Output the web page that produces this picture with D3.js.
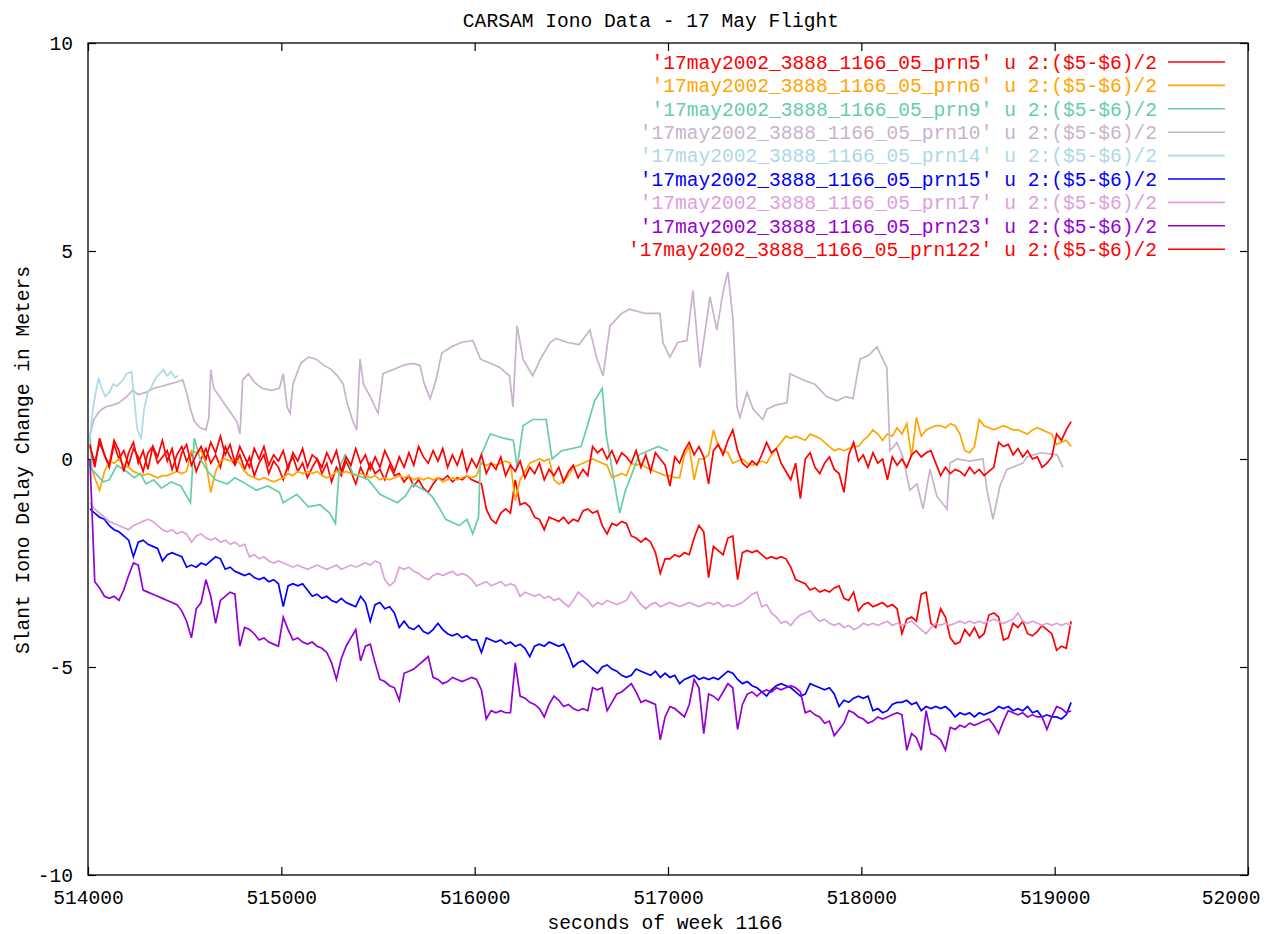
<!DOCTYPE html>
<html><head><meta charset="utf-8">
<script src="https://cdn.jsdelivr.net/npm/d3@7"></script>
<style>
body{margin:0;background:#fff;}
text{font-family:"Liberation Mono","DejaVu Sans Mono",monospace;}
</style></head><body>
<svg id="chart" width="1273" height="934"></svg>
<script>
// Densely sampled receivers share one regular time grid (seconds of week)
const denseStart = 514010, denseStep = 25;

// prn5: near zero, then drifting down after 516000 s
const prn5Values = [
 0.3,-0.1,0.4,0.1,-0.2,0.35,0.0,0.2,
 -0.15,0.25,0.05,-0.3,0.15,0.3,-0.1,0.05,
 0.2,-0.25,0.1,0.3,-0.05,0.15,-0.3,0.0,
 0.25,-0.1,0.1,-0.2,0.3,0.05,-0.15,0.1,
 -0.25,0.05,-0.4,-0.1,0.1,-0.35,-0.05,-0.2,
 -0.5,-0.15,0.05,-0.3,-0.1,-0.45,-0.2,0.0,
 -0.35,-0.1,-0.55,-0.2,-0.4,-0.05,-0.3,-0.6,
 -0.2,-0.45,-0.1,-0.35,-0.25,-0.5,-0.15,-0.4,
 -0.35,-0.55,-0.4,-0.65,-0.5,-0.7,-0.8,-0.6,
 -0.45,-0.5,-0.4,-0.55,-0.45,-0.5,-0.4,-0.5,
 -0.55,-0.6,-1.2,-1.45,-1.55,-1.3,-1.2,-1.3,
 -0.5,-1.1,-1.05,-1.15,-1.4,-1.45,-1.7,-1.4,
 -1.45,-1.5,-1.4,-1.55,-1.45,-1.5,-1.25,-1.2,
 -1.3,-1.25,-1.6,-1.8,-1.55,-1.6,-1.5,-1.55,
 -1.85,-1.9,-2.0,-1.9,-2.0,-2.25,-2.75,-2.4,
 -2.4,-2.3,-2.35,-2.25,-2.3,-1.9,-1.6,-1.75,
 -2.85,-2.1,-2.2,-2.3,-1.9,-1.85,-2.9,-2.25,
 -2.2,-2.25,-2.2,-2.3,-2.4,-2.35,-2.4,-2.35,
 -2.4,-2.6,-2.9,-2.95,-3.0,-3.15,-3.1,-3.2,
 -3.15,-3.2,-3.1,-3.05,-3.35,-3.4,-3.2,-3.65,
 -3.5,-3.45,-3.55,-3.5,-3.45,-3.55,-3.5,-3.6,
 -4.2,-3.85,-3.8,-3.9,-3.25,-3.2,-3.95,-4.05,
 -3.6,-3.8,-4.3,-4.45,-4.4,-4.1,-4.25,-4.05,
 -4.3,-4.2,-3.75,-3.7,-3.8,-4.35,-4.3,-3.95,
 -4.05,-3.9,-4.2,-4.25,-4.15,-4.0,-4.1,-4.2,
 -4.6,-4.5,-4.55,-3.9
];

const prn6Values = [
 -0.1,-0.45,-0.75,-0.3,-0.05,-0.1,0.0,-0.15,
 -0.2,-0.3,-0.35,-0.4,-0.35,-0.4,-0.45,-0.4,
 -0.4,-0.35,-0.3,-0.35,-0.3,0.2,0.15,0.2,
 -0.1,-0.8,-0.3,-0.05,0.0,-0.05,0.0,-0.1,
 -0.3,-0.4,-0.45,-0.5,-0.45,-0.5,-0.55,-0.5,
 -0.45,-0.35,-0.4,-0.3,-0.35,-0.3,-0.35,-0.3,
 -0.4,-0.45,-0.4,-0.3,-0.35,-0.3,-0.35,-0.4,
 -0.35,-0.4,-0.45,-0.4,-0.5,-0.45,-0.5,-0.45,
 -0.4,-0.45,-0.4,-0.5,-0.45,-0.5,-0.45,-0.5,
 -0.45,-0.55,-0.5,-0.45,-0.5,-0.45,-0.4,-0.45,
 -0.4,-0.1,-0.15,-0.1,-0.15,-0.1,-0.05,-0.1,
 -1.0,-0.5,-0.3,-0.1,-0.05,0.0,-0.05,0.0,
 -0.5,-0.6,-0.55,-0.4,-0.2,-0.15,-0.1,-0.05,
 0.0,-0.05,-0.1,-0.15,-0.45,-0.4,-0.35,-0.4,
 -0.1,-0.15,-0.1,-0.2,-0.25,-0.3,-0.35,-0.4,
 -0.4,-0.45,-0.45,0.1,0.3,-0.5,0.0,0.0,
 0.1,0.7,0.3,0.2,0.15,-0.1,-0.05,0.0,
 -0.1,-0.15,-0.1,-0.05,-0.1,0.1,0.25,0.4,
 0.55,0.5,0.55,0.5,0.45,0.6,0.55,0.5,
 0.4,0.3,0.2,0.25,0.2,0.25,0.3,0.3,
 0.45,0.55,0.7,0.6,0.45,0.6,0.55,0.75,
 0.6,0.85,0.05,1.0,0.55,0.7,0.75,0.8,
 0.8,0.75,0.85,0.8,0.6,0.2,0.15,0.3,
 0.95,0.8,0.75,0.7,0.75,0.8,0.75,0.7,
 0.7,0.65,0.6,0.7,0.75,0.7,0.65,0.6,
 0.35,0.4,0.45,0.3
];

const prn15Values = [
 -1.2,-1.3,-1.4,-1.45,-1.6,-1.7,-1.75,-1.85,
 -1.95,-2.35,-2.0,-1.95,-2.05,-2.1,-2.15,-2.45,
 -2.3,-2.25,-2.3,-2.35,-2.6,-2.55,-2.6,-2.5,
 -2.55,-2.45,-2.35,-2.4,-2.65,-2.6,-2.7,-2.75,
 -2.8,-2.75,-2.85,-2.9,-2.85,-2.95,-2.9,-3.0,
 -3.55,-3.05,-3.0,-3.05,-3.0,-3.15,-3.3,-3.25,
 -3.35,-3.3,-3.4,-3.45,-3.35,-3.45,-3.5,-3.55,
 -3.3,-3.45,-3.9,-3.5,-3.45,-3.6,-3.55,-3.7,
 -4.05,-3.9,-4.05,-4.1,-4.0,-4.15,-4.2,-4.1,
 -3.95,-4.1,-4.2,-4.25,-4.2,-4.3,-4.25,-4.35,
 -4.35,-4.65,-4.3,-4.35,-4.4,-4.35,-4.45,-4.4,
 -4.5,-4.45,-4.55,-4.75,-4.5,-4.45,-4.5,-4.4,
 -4.45,-4.5,-4.45,-4.7,-5.0,-4.9,-4.85,-4.95,
 -5.05,-5.15,-5.0,-4.95,-5.05,-5.1,-5.2,-5.25,
 -5.2,-5.05,-5.1,-5.15,-5.2,-5.1,-5.25,-5.15,
 -5.25,-5.2,-5.4,-5.3,-5.25,-5.2,-5.3,-5.25,
 -5.3,-5.25,-5.3,-5.2,-5.1,-5.15,-5.3,-5.4,
 -5.35,-5.45,-5.5,-5.6,-5.7,-5.55,-5.45,-5.4,
 -5.45,-5.5,-5.6,-5.7,-5.65,-5.4,-5.45,-5.5,
 -5.55,-5.5,-5.65,-5.95,-5.8,-5.85,-5.75,-5.7,
 -5.75,-5.7,-6.05,-6.0,-6.1,-6.05,-5.9,-5.85,
 -5.85,-5.8,-5.9,-5.85,-6.05,-5.95,-6.0,-5.95,
 -6.0,-5.95,-6.05,-6.2,-6.1,-6.15,-6.1,-6.2,
 -6.1,-6.15,-6.1,-6.05,-5.95,-6.0,-5.95,-6.05,
 -6.0,-6.05,-5.95,-6.1,-6.05,-6.2,-6.15,-6.2,
 -6.2,-6.25,-6.15,-5.85
];

const prn17Values = [
 -1.05,-1.2,-1.3,-1.4,-1.5,-1.55,-1.6,-1.65,
 -1.7,-1.6,-1.55,-1.5,-1.45,-1.5,-1.6,-1.7,
 -1.75,-1.7,-1.8,-1.75,-1.8,-2.0,-1.85,-1.8,
 -1.9,-1.95,-1.9,-2.0,-1.95,-2.05,-2.0,-2.1,
 -2.05,-2.35,-2.3,-2.4,-2.35,-2.45,-2.5,-2.45,
 -2.5,-2.55,-2.6,-2.55,-2.6,-2.65,-2.6,-2.55,
 -2.6,-2.65,-2.6,-2.55,-2.65,-2.6,-2.55,-2.6,
 -2.55,-2.5,-2.55,-2.45,-2.5,-2.9,-3.05,-2.95,
 -2.6,-2.65,-2.6,-2.7,-2.75,-2.85,-2.9,-2.8,
 -2.75,-2.8,-2.75,-2.7,-2.8,-2.75,-2.8,-2.9,
 -3.05,-3.0,-2.95,-3.05,-3.0,-2.95,-3.05,-3.0,
 -3.05,-3.3,-3.2,-3.25,-3.3,-3.25,-3.35,-3.3,
 -3.4,-3.35,-3.45,-3.55,-3.4,-3.2,-3.3,-3.4,
 -3.55,-3.45,-3.5,-3.4,-3.45,-3.5,-3.45,-3.4,
 -3.2,-3.35,-3.5,-3.6,-3.5,-3.45,-3.55,-3.5,
 -3.45,-3.5,-3.55,-3.5,-3.45,-3.5,-3.55,-3.5,
 -3.45,-3.5,-3.45,-3.55,-3.5,-3.55,-3.5,-3.45,
 -3.35,-3.25,-3.2,-3.55,-3.5,-3.7,-3.8,-3.95,
 -3.9,-4.0,-3.85,-3.75,-3.7,-3.65,-3.8,-3.9,
 -3.85,-3.95,-4.0,-3.95,-4.05,-4.0,-4.1,-4.05,
 -3.95,-4.0,-3.95,-4.0,-3.95,-3.9,-4.0,-3.95,
 -4.0,-3.95,-3.9,-4.0,-4.1,-4.2,-4.05,-3.95,
 -4.0,-3.95,-4.0,-3.95,-3.9,-3.95,-3.9,-3.95,
 -3.9,-3.95,-3.9,-3.85,-3.9,-3.95,-3.9,-3.85,
 -3.7,-3.9,-3.95,-3.9,-3.95,-4.0,-3.95,-4.0,
 -3.95,-4.0,-3.95,-4.0
];

const prn23Values = [
 0.0,-2.95,-3.1,-3.3,-3.35,-3.3,-3.4,-3.15,
 -2.8,-2.5,-2.55,-3.15,-3.2,-3.25,-3.3,-3.35,
 -3.4,-3.45,-3.5,-3.65,-3.9,-4.3,-3.6,-3.45,
 -2.9,-3.3,-3.95,-3.4,-3.3,-3.2,-3.25,-4.5,
 -4.05,-4.1,-4.2,-4.35,-4.3,-4.4,-4.45,-4.5,
 -3.8,-4.1,-4.35,-4.3,-4.4,-4.45,-4.4,-4.5,
 -4.55,-4.65,-4.9,-5.3,-4.8,-4.5,-4.3,-4.1,
 -4.85,-4.5,-4.45,-4.9,-5.3,-5.35,-5.45,-5.5,
 -5.8,-5.15,-5.1,-5.05,-4.95,-4.85,-4.75,-5.25,
 -5.3,-5.4,-5.35,-5.25,-5.3,-5.35,-5.3,-5.25,
 -5.3,-5.55,-6.25,-6.05,-6.1,-6.05,-6.1,-6.1,
 -4.9,-5.7,-5.75,-5.85,-5.9,-6.0,-6.2,-5.9,
 -5.7,-5.8,-5.95,-5.9,-6.0,-6.05,-6.0,-6.05,
 -5.5,-5.55,-5.5,-6.05,-5.85,-5.65,-5.6,-5.5,
 -5.4,-5.6,-5.85,-5.8,-5.85,-5.9,-6.75,-6.2,
 -5.95,-6.0,-6.1,-6.2,-5.9,-5.3,-5.5,-6.6,
 -5.65,-5.7,-5.8,-5.6,-5.4,-5.5,-6.5,-5.9,
 -5.65,-5.6,-5.7,-5.6,-5.55,-5.6,-5.5,-5.55,
 -5.5,-5.45,-5.5,-5.6,-6.1,-6.05,-6.15,-6.2,
 -6.35,-6.3,-6.65,-6.5,-6.35,-6.05,-6.1,-6.2,
 -6.25,-6.35,-6.3,-6.2,-6.25,-6.2,-6.15,-6.1,
 -6.15,-7.0,-6.6,-6.7,-7.0,-6.05,-6.6,-6.65,
 -6.75,-7.0,-6.45,-6.5,-6.4,-6.45,-6.35,-6.4,
 -6.35,-6.3,-6.25,-6.4,-6.6,-6.3,-6.05,-6.1,
 -6.15,-6.1,-6.2,-6.15,-6.2,-6.2,-6.5,-6.2,
 -5.95,-6.0,-6.1,-6.05
];

// prn122: noisy, stays around zero for the whole flight
const prn122Values = [
 0.35,-0.2,0.5,0.1,-0.15,0.45,0.2,-0.3,
 0.15,0.4,-0.1,0.2,-0.25,0.3,0.05,0.45,
 -0.05,0.25,-0.3,0.15,0.35,-0.15,0.1,0.3,
 0.0,0.4,0.15,0.55,0.1,0.35,-0.1,0.3,
 0.05,-0.2,0.25,0.0,0.3,-0.15,0.1,-0.05,
 0.2,-0.25,0.15,-0.05,0.25,-0.2,0.1,0.0,
 -0.2,0.15,-0.1,0.2,-0.3,0.05,-0.15,0.25,
 -0.1,0.1,-0.25,0.05,-0.2,0.2,-0.05,-0.3,
 0.05,-0.2,0.15,-0.15,0.3,0.05,-0.1,0.2,
 -0.05,0.25,-0.2,0.1,-0.15,0.2,-0.3,0.0,
 -0.2,0.1,-0.35,-0.1,-0.25,0.05,-0.4,-0.15,
 -0.3,-0.05,-0.45,-0.2,-0.35,-0.1,-0.5,-0.25,
 -0.4,-0.2,-0.55,-0.3,-0.15,-0.45,-0.25,-0.4,
 0.3,0.15,0.25,0.0,0.2,-0.1,0.15,0.05,
 -0.1,0.2,-0.2,0.1,-0.3,0.15,0.0,-0.15,
 -0.65,0.05,-0.1,0.2,0.4,0.1,0.3,0.05,
 -0.6,0.2,0.35,0.1,0.45,0.7,0.2,-0.1,
 -0.2,-0.05,-0.15,0.1,0.4,0.15,0.25,-0.1,
 -0.3,-0.5,-0.1,-0.95,0.0,0.15,-0.2,-0.35,
 -0.1,0.05,-0.25,-0.35,-0.8,0.1,0.4,-0.05,
 0.1,-0.2,0.15,-0.1,0.0,-0.5,0.05,-0.15,
 0.0,-0.2,0.1,0.2,0.05,0.15,0.2,-0.1,
 -0.4,-0.2,-0.35,-0.25,-0.3,-0.4,-0.2,-0.35,
 -0.25,-0.4,-0.3,-0.2,0.4,0.3,0.35,0.1,
 0.25,0.05,0.2,0.0,0.05,-0.2,-0.1,0.05,
 0.6,0.45,0.7,0.9
];

// Irregularly sampled receivers: [seconds of week, slant delay change (m)]
const prn9Points = [
 [514010,0.6],[514020,-0.25],[514050,-0.4],[514080,-0.55],[514110,-0.5],[514150,-0.15],
 [514200,-0.3],[514240,-0.45],[514270,-0.35],[514300,-0.6],[514340,-0.5],[514380,-0.7],
 [514430,-0.55],[514480,-0.65],[514530,-1.05],[514550,0.5],[514580,0.0],[514620,-0.3],
 [514660,-0.5],[514720,-0.6],[514760,-0.45],[514800,-0.55],[514870,-0.75],[514930,-0.65],
 [514990,-0.8],[515010,-1.05],[515080,-0.85],[515140,-1.15],[515200,-1.1],[515250,-1.3],
 [515280,-1.55],[515300,-0.2],[515330,0.1],[515370,-0.35],[515450,-0.5],[515510,-0.85],
 [515600,-1.05],[515640,-0.9],[515680,-0.6],[515740,-0.75],[515780,-0.9],[515820,-1.2],
 [515850,-1.45],[515920,-1.6],[515960,-1.45],[515990,-1.8],[516020,-1.4],[516030,0.05],
 [516080,0.6],[516150,0.5],[516200,0.45],[516220,-0.2],[516250,0.8],[516300,0.95],
 [516370,0.95],[516400,0.0],[516450,0.2],[516550,0.3],[516580,0.75],[516620,1.4],
 [516660,1.7],[516680,0.6],[516720,-0.5],[516750,-1.3],[516780,-0.75],[516810,-0.4],
 [516850,0.1],[516950,0.3],[517000,0.2]
];

const prn10Points = [
 [514010,0.55],[514030,0.95],[514060,1.15],[514090,1.25],[514130,1.3],[514160,1.35],
 [514200,1.5],[514230,1.65],[514260,1.55],[514300,1.6],[514340,1.7],[514380,1.75],
 [514420,1.8],[514460,1.85],[514490,1.9],[514510,1.6],[514530,1.2],[514550,0.9],
 [514580,0.75],[514610,0.7],[514625,1.0],[514635,2.15],[514650,1.7],[514680,1.5],
 [514710,1.3],[514740,1.1],[514770,0.9],[514786,0.6],[514800,1.9],[514830,2.05],
 [514860,1.85],[514900,1.7],[514950,1.65],[514990,1.7],[515010,2.05],[515030,1.25],
 [515045,1.1],[515060,1.8],[515100,2.3],[515140,2.45],[515180,2.4],[515220,2.25],
 [515260,2.15],[515290,2.0],[515320,1.8],[515340,1.35],[515370,0.9],[515390,0.7],
 [515407,2.4],[515425,1.8],[515460,1.5],[515500,1.1],[515526,2.05],[515580,2.15],
 [515630,2.25],[515680,2.3],[515717,2.25],[515740,1.8],[515770,1.45],[515800,1.9],
 [515830,2.55],[515880,2.7],[515930,2.8],[515990,2.85],[516030,2.4],[516080,2.3],
 [516130,2.2],[516180,2.0],[516198,1.25],[516219,3.2],[516250,2.4],[516300,2.0],
 [516340,2.4],[516390,2.8],[516420,2.9],[516480,2.8],[516540,2.75],[516596,3.1],
 [516633,2.4],[516664,2.0],[516700,3.2],[516760,3.5],[516800,3.6],[516880,3.5],
 [516958,3.5],[516974,2.8],[517010,2.45],[517050,2.8],[517098,2.85],[517129,4.05],
 [517165,2.2],[517217,3.9],[517253,3.1],[517284,4.0],[517310,4.5],[517336,3.35],
 [517357,1.25],[517372,1.0],[517408,1.6],[517440,1.2],[517490,0.95],[517512,1.2],
 [517560,1.3],[517615,1.35],[517631,2.05],[517700,1.9],[517760,1.8],[517820,1.5],
 [517874,1.4],[517920,1.5],[517957,1.45],[517993,2.4],[518040,2.5],[518081,2.7],
 [518100,2.5],[518132,2.2],[518148,0.2],[518184,0.4],[518215,0.05],[518251,-0.75],
 [518288,-0.6],[518319,-1.2],[518355,-0.25],[518391,-0.9],[518443,-1.2],[518458,-0.1],
 [518494,0.0],[518560,-0.05],[518629,0.0],[518650,-0.75],[518681,-1.45],[518717,-0.65],
 [518753,-0.25],[518836,-0.1],[518856,0.05],[518930,0.15],[519012,0.1],[519043,-0.2]
];

const prn14Points = [
 [514010,0.5],[514025,1.2],[514040,1.6],[514055,1.95],[514070,1.7],[514090,1.5],
 [514110,1.6],[514130,1.8],[514150,1.75],[514180,1.9],[514200,2.05],[514225,2.1],
 [514240,1.4],[514255,0.7],[514275,0.5],[514290,1.2],[514310,1.6],[514330,1.75],
 [514350,1.95],[514370,2.05],[514390,2.15],[514410,2.0],[514430,2.1],[514450,1.95],
 [514465,2.0]
];

const seriesNames = ["prn5","prn6","prn9","prn10","prn14","prn15","prn17","prn23","prn122"];
const seriesColors = ["#ff0000","#ffa500","#66cdaa","#c9b2cc","#add8e6","#0000ff","#dda0dd","#9400d3","#ff0000"];
const legendLabels = seriesNames.map(n => "'17may2002_3888_1166_05_" + n + "' u 2:($5-$6)/2");

const xTickValues = [514000,515000,516000,517000,518000,519000,520000];
const xTickLabels = ["514000","515000","516000","517000","518000","519000","52000"];
const yTickValues = [-10,-5,0,5,10];
const yTickLabels = ["-10","-5","0","5","10"];

const titleText = "CARSAM Iono Data - 17 May Flight";
const xAxisTitle = "seconds of week 1166";
const yAxisTitle = "Slant Iono Delay Change in Meters";

// ---- build series ----
const densePoints = vals => vals.map((v, i) => [denseStart + i * denseStep, v]);
const seriesData = [
  densePoints(prn5Values), densePoints(prn6Values), prn9Points, prn10Points, prn14Points,
  densePoints(prn15Values), densePoints(prn17Values), densePoints(prn23Values),
  densePoints(prn122Values)
];

const W = 1273, H = 934;
const plot = {left: 88, right: 1248, top: 43, bottom: 875};
const svg = d3.select("#chart");
svg.append("rect").attr("width", W).attr("height", H).attr("fill", "#fff");

const x = d3.scaleLinear().domain([514000, 520000]).range([plot.left, plot.right]);
const y = d3.scaleLinear().domain([-10, 10]).range([plot.bottom, plot.top]);

const FS = 19.6;

// axes with inward ticks on all four sides
const gx = svg.append("g").attr("transform", `translate(0,${plot.bottom})`)
  .call(d3.axisBottom(x).tickValues(xTickValues)
    .tickFormat((d, i) => xTickLabels[i]).tickSizeInner(-8).tickSizeOuter(0).tickPadding(15));
const gy = svg.append("g").attr("transform", `translate(${plot.left},0)`)
  .call(d3.axisLeft(y).tickValues(yTickValues)
    .tickFormat((d, i) => yTickLabels[i]).tickSizeInner(-8).tickSizeOuter(0).tickPadding(15));
const gt = svg.append("g").attr("transform", `translate(0,${plot.top})`)
  .call(d3.axisTop(x).tickValues(xTickValues).tickFormat("").tickSizeInner(-8).tickSizeOuter(0));
const gr = svg.append("g").attr("transform", `translate(${plot.right},0)`)
  .call(d3.axisRight(y).tickValues(yTickValues).tickFormat("").tickSizeInner(-8).tickSizeOuter(0));

[gx, gy, gt, gr].forEach(g => {
  g.select(".domain").remove();
  g.selectAll(".tick line").attr("stroke", "#000").attr("stroke-width", 1.2);
  g.selectAll("text").attr("font-family", "Liberation Mono, DejaVu Sans Mono, monospace")
    .attr("font-size", FS).attr("fill", "#000");
});
// the last x label sits flush with the right edge of the image
gx.selectAll(".tick text").filter((d, i) => i === xTickValues.length - 1)
  .attr("text-anchor", "end").attr("dx", 12);

// series lines
const line = d3.line().x(d => x(d[0])).y(d => y(d[1]));
svg.append("g").selectAll("path").data(seriesData).join("path")
  .attr("d", line)
  .attr("fill", "none")
  .attr("stroke", (d, i) => seriesColors[i])
  .attr("stroke-width", 1.7)
  .attr("stroke-linejoin", "miter");

// frame
svg.append("rect")
  .attr("x", plot.left).attr("y", plot.top)
  .attr("width", plot.right - plot.left).attr("height", plot.bottom - plot.top)
  .attr("fill", "none").attr("stroke", "#000").attr("stroke-width", 1.3);

// legend
const leg = svg.append("g");
legendLabels.forEach((lab, i) => {
  const ly = 62 + i * 23.4;
  leg.append("text").attr("x", 1157).attr("y", ly).attr("dy", "0.35em")
    .attr("text-anchor", "end").attr("font-size", FS).attr("fill", seriesColors[i]).text(lab);
  leg.append("line").attr("x1", 1168).attr("x2", 1225).attr("y1", ly).attr("y2", ly)
    .attr("stroke", seriesColors[i]).attr("stroke-width", 1.6);
});

// titles
svg.append("text").attr("x", 651).attr("y", 20).attr("dy", "0.35em")
  .attr("text-anchor", "middle").attr("font-size", FS).text(titleText);
svg.append("text").attr("x", 665).attr("y", 922).attr("dy", "0.35em")
  .attr("text-anchor", "middle").attr("font-size", FS).text(xAxisTitle);
svg.append("text").attr("transform", "translate(22,460) rotate(-90)").attr("dy", "0.35em")
  .attr("text-anchor", "middle").attr("font-size", FS).text(yAxisTitle);
</script>
</body></html>
